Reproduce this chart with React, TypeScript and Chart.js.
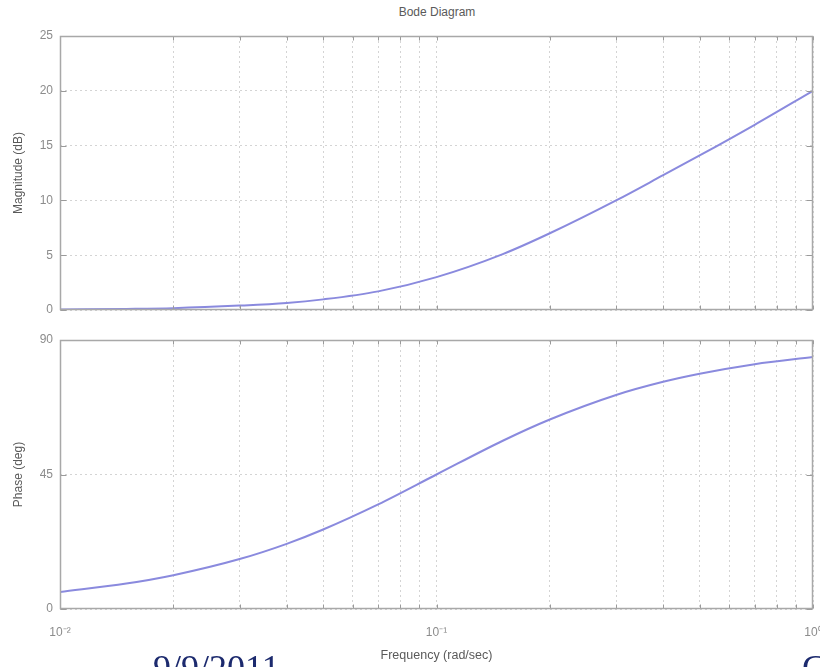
import React, { useEffect, useRef } from 'react';
import { Chart, registerables } from 'chart.js';

Chart.register(...registerables);

// ---- data ----
const frequency = [0.01, 0.015, 0.02, 0.03, 0.04, 0.05, 0.07, 0.1, 0.15, 0.2, 0.3, 0.4, 0.5, 0.7, 1];
const magnitudeDb = [0.04, 0.1, 0.17, 0.4, 0.64, 0.97, 1.7, 3.0, 5.1, 7.0, 10.0, 12.3, 14.1, 16.9, 20.0];
const phaseDeg = [5.7, 8.5, 11.3, 16.7, 21.8, 26.6, 35.0, 45.0, 56.3, 63.4, 71.6, 76.0, 78.7, 81.9, 84.3];

const xTickValues = [
  0.01, 0.02, 0.03, 0.04, 0.05, 0.06, 0.07, 0.08, 0.09,
  0.1, 0.2, 0.3, 0.4, 0.5, 0.6, 0.7, 0.8, 0.9, 1,
];
const xDecadeValues = [0.01, 0.1, 1];
const xDecadeLabels = ['10⁻²', '10⁻¹', '10⁰'];
const magTicks = [0, 5, 10, 15, 20, 25];
const phaseTicks = [0, 45, 90];

const FONT = '"Liberation Sans", Arial, Helvetica, sans-serif';
const LINE_COLOR = '#8a8ade';
const GRID_COLOR = '#d4d4d4';
const FRAME_COLOR = '#a8a8a8';
const TICK_TEXT = '#8c8c8c';
const TITLE_TEXT = '#5a5a5a';

const framePlugin = {
  id: 'matlabFrame',
  afterDraw(chart: any) {
    const { ctx, chartArea: a, scales } = chart;
    const l = Math.round(a.left) + 0.5;
    const r = Math.round(a.right) - 0.5;
    const t = Math.round(a.top) + 0.5;
    const b = Math.round(a.bottom) - 0.5;
    ctx.save();
    ctx.setLineDash([]);
    ctx.strokeStyle = '#9a9a9a';
    ctx.lineWidth = 1;
    ctx.beginPath();
    scales.x.ticks.forEach((tk: any) => {
      const px = Math.round(scales.x.getPixelForValue(tk.value)) + 0.5;
      ctx.moveTo(px, b);
      ctx.lineTo(px, b - 4);
      ctx.moveTo(px, t);
      ctx.lineTo(px, t + 4);
    });
    scales.y.ticks.forEach((tk: any) => {
      const py = Math.round(scales.y.getPixelForValue(tk.value)) + 0.5;
      ctx.moveTo(l, py);
      ctx.lineTo(l + 6, py);
      ctx.moveTo(r, py);
      ctx.lineTo(r - 6, py);
    });
    ctx.stroke();
    ctx.strokeStyle = FRAME_COLOR;
    ctx.lineWidth = 1.5;
    ctx.strokeRect(l, t, r - l, b - t);
    ctx.restore();
  },
};

function makeConfig(
  values: number[],
  yMin: number,
  yMax: number,
  yTicks: number[],
  yTitle: string,
  bottom: boolean,
  padTop: number,
  xAxisHeight: number,
) {
  return {
    type: 'line' as const,
    data: {
      datasets: [
        {
          data: frequency.map((f, i) => ({ x: f, y: values[i] })),
          borderColor: LINE_COLOR,
          borderWidth: 2,
          pointRadius: 0,
          fill: false,
          cubicInterpolationMode: 'monotone' as const,
        },
      ],
    },
    options: {
      responsive: false,
      animation: false as const,
      layout: { padding: { top: padTop, right: 7, left: 0, bottom: 0 } },
      plugins: {
        legend: { display: false },
        tooltip: { enabled: false },
        title: { display: false },
      },
      scales: {
        x: {
          type: 'logarithmic' as const,
          min: 0.01,
          max: 1,
          afterBuildTicks: (s: any) => {
            s.ticks = xTickValues.map((v) => ({ value: v }));
          },
          afterFit: (s: any) => {
            s.height = xAxisHeight;
            s.paddingLeft = 0;
            s.paddingRight = 0;
          },
          grid: {
            color: GRID_COLOR,
            lineWidth: 1,
            drawTicks: false,
            borderDash: [2, 3],
          },
          border: { display: false, dash: [2, 3] },
          ticks: {
            display: bottom,
            autoSkip: false,
            maxRotation: 0,
            minRotation: 0,
            padding: 16,
            color: TICK_TEXT,
            font: { family: FONT, size: 12 },
            callback: (v: any) => {
              const i = xDecadeValues.indexOf(Number(v));
              return i >= 0 ? xDecadeLabels[i] : '';
            },
          },
          title: {
            display: bottom,
            text: 'Frequency (rad/sec)',
            color: TITLE_TEXT,
            font: { family: FONT, size: 12.5 },
            padding: { top: 0, bottom: 4 },
          },
        },
        y: {
          type: 'linear' as const,
          min: yMin,
          max: yMax,
          afterBuildTicks: (s: any) => {
            s.ticks = yTicks.map((v) => ({ value: v }));
          },
          afterFit: (s: any) => {
            s.width = 60;
            s.paddingTop = 0;
            s.paddingBottom = 0;
          },
          grid: {
            color: GRID_COLOR,
            lineWidth: 1,
            drawTicks: false,
            borderDash: [2, 3],
          },
          border: { display: false, dash: [2, 3] },
          ticks: {
            padding: 7,
            color: TICK_TEXT,
            font: { family: FONT, size: 12 },
          },
          title: {
            display: true,
            text: yTitle,
            color: TITLE_TEXT,
            font: { family: FONT, size: 12 },
            padding: { top: 11, bottom: 0 },
          },
        },
      },
    },
    plugins: [framePlugin],
  };
}

export default function App() {
  const topRef = useRef<HTMLCanvasElement | null>(null);
  const botRef = useRef<HTMLCanvasElement | null>(null);

  useEffect(() => {
    const c1 = new Chart(
      topRef.current as HTMLCanvasElement,
      makeConfig(magnitudeDb, 0, 25, magTicks, 'Magnitude (dB)', false, 36, 12) as any,
    );
    const c2 = new Chart(
      botRef.current as HTMLCanvasElement,
      makeConfig(phaseDeg, 0, 90, phaseTicks, 'Phase (deg)', true, 18, 58) as any,
    );
    return () => {
      c1.destroy();
      c2.destroy();
    };
  }, []);

  return (
    <div
      style={{
        position: 'absolute',
        left: 0,
        top: 0,
        width: 820,
        height: 667,
        overflow: 'hidden',
        background: '#ffffff',
      }}
    >
      <div
        style={{
          position: 'absolute',
          left: 0,
          top: 5,
          width: 874,
          textAlign: 'center',
          fontFamily: FONT,
          fontSize: 12,
          color: TITLE_TEXT,
          lineHeight: '14px',
        }}
      >
        Bode Diagram
      </div>
      <canvas
        ref={topRef}
        width={820}
        height={322}
        style={{ position: 'absolute', left: 0, top: 0, width: 820, height: 322 }}
      />
      <canvas
        ref={botRef}
        width={820}
        height={345}
        style={{ position: 'absolute', left: 0, top: 322, width: 820, height: 345 }}
      />
      <div
        style={{
          position: 'absolute',
          left: 153,
          top: 650,
          fontFamily: '"Liberation Serif", "Times New Roman", serif',
          fontSize: 36,
          lineHeight: '36px',
          color: '#1c2a6e',
          whiteSpace: 'nowrap',
        }}
      >
        9/9/2011
      </div>
      <div
        style={{
          position: 'absolute',
          left: 802,
          top: 650,
          fontFamily: '"Liberation Serif", "Times New Roman", serif',
          fontSize: 36,
          lineHeight: '36px',
          color: '#1c2a6e',
          whiteSpace: 'nowrap',
        }}
      >
        C
      </div>
    </div>
  );
}
